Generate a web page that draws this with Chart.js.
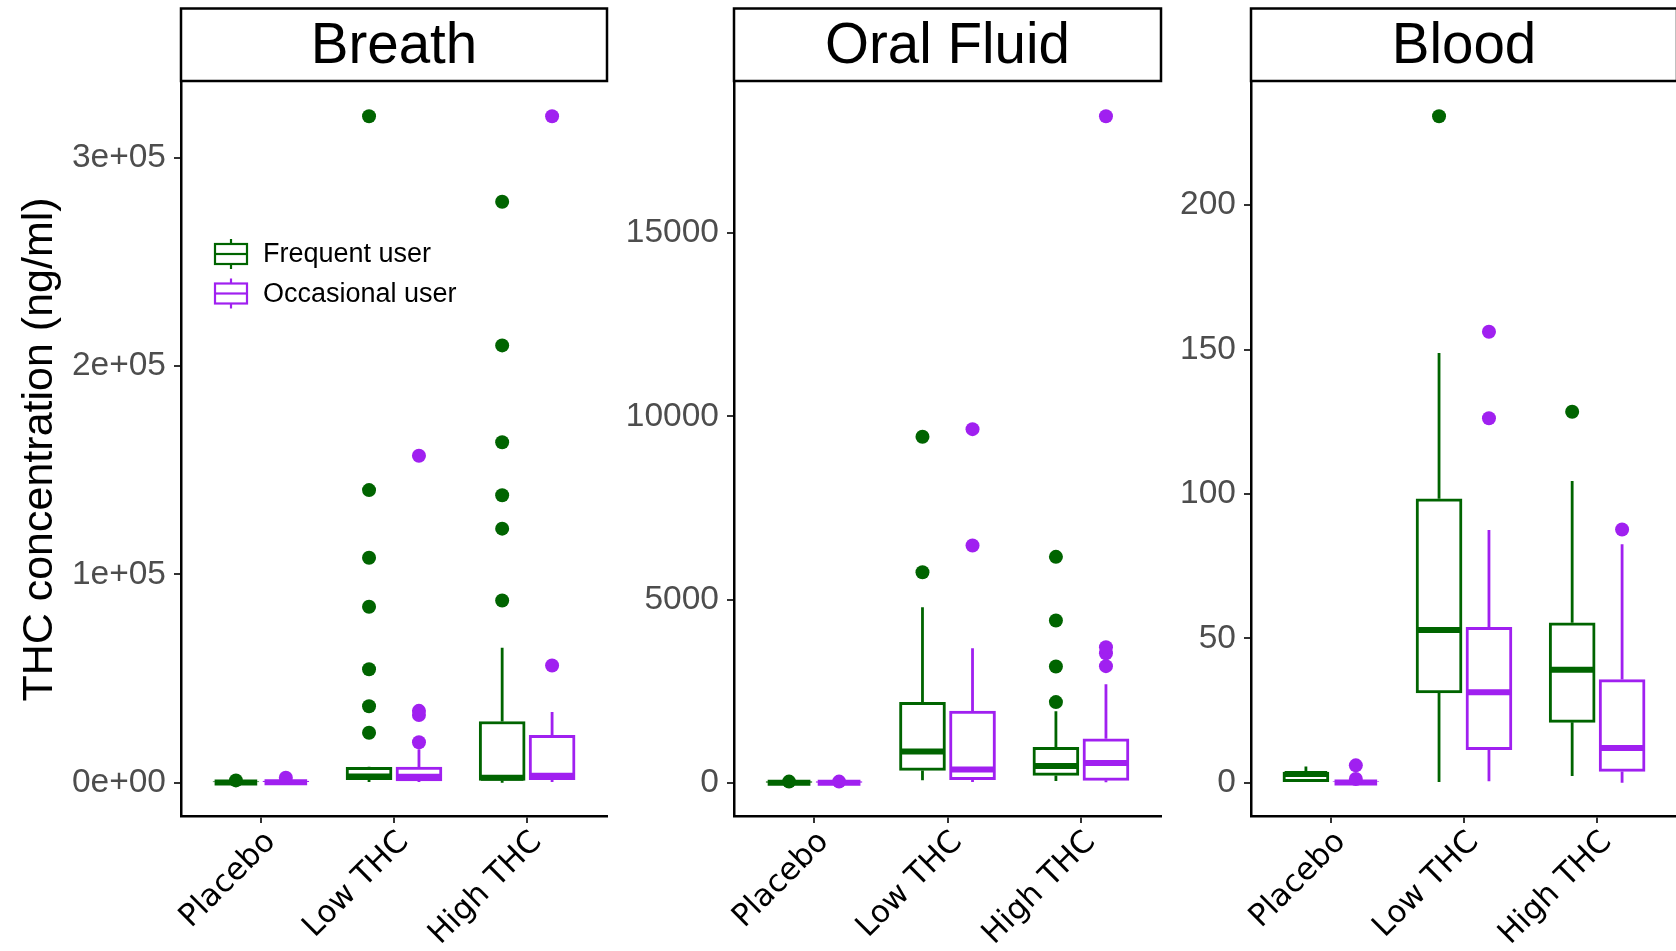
<!DOCTYPE html>
<html>
<head>
<meta charset="utf-8">
<script src="https://cdn.jsdelivr.net/npm/chart.js@4.4.1/dist/chart.umd.min.js"></script>
<style>
  html, body { margin: 0; padding: 0; background: #fff; width: 1676px; height: 951px; overflow: hidden; }
  .panel { position: absolute; top: 0; height: 951px; }
</style>
</head>
<body>
<div class="panel" style="left:0;width:620px"><canvas id="breath"></canvas></div>
<div class="panel" style="left:620px;width:545px"><canvas id="oral"></canvas></div>
<div class="panel" style="left:1165px;width:520px"><canvas id="blood"></canvas></div>
<script>
const groups = ["Placebo", "Low THC", "High THC"];
const users = ["Frequent user", "Occasional user"];
const userColors = ["#006400", "#A020F0"];

// box stats per group: [lower whisker, Q1, median, Q3, upper whisker]
const breathFrequent = [[0, 0, 100, 400, 800], [300, 1400, 3000, 7400, 7600], [0, 1100, 2400, 29400, 64800]];
const breathOccasional = [[0, 0, 200, 800, 1500], [300, 900, 2800, 7500, 16000], [300, 1400, 3300, 22700, 33900]];
const breathFrequentOut = [[1100], [24000, 36700, 54500, 84500, 108000, 140500, 320000], [87500, 122000, 138000, 163500, 210000, 279000]];
const breathOccasionalOut = [[2400], [19400, 32500, 34500, 157000], [56300, 320000]];

const oralFrequent = [[0, 0, 0, 10, 20], [63, 335, 854, 2190, 4790], [44, 199, 453, 963, 1953]];
const oralOccasional = [[0, 0, 0, 10, 20], [16, 82, 363, 1953, 3672], [10, 63, 535, 1200, 2690]];
const oralFrequentOut = [[30], [5745, 9445], [2199, 3173, 4428, 6165]];
const oralOccasionalOut = [[30], [6474, 9650], [3181, 3535, 3700, 18190]];

const bloodFrequent = [[0, 0, 3, 3.7, 5.6], [0.2, 31.1, 52.9, 98.3, 148.8], [2.3, 20.9, 39.1, 55.4, 104.5]];
const bloodOccasional = [[0, 0, 0.1, 0.4, 0.6], [0.5, 11.4, 31.3, 53.8, 87.5], [0, 3.9, 12.0, 35.7, 82.6]];
const bloodFrequentOut = [[], [230.8], [128.5]];
const bloodOccasionalOut = [[1.3, 6.0], [126.2, 156.2], [87.7]];

// y axis ticks and labels
const breathTicks = [0, 100000, 200000, 300000];
const breathTickLabels = ["0e+00", "1e+05", "2e+05", "3e+05"];
const oralTicks = [0, 5000, 10000, 15000];
const oralTickLabels = ["0", "5000", "10000", "15000"];
const bloodTicks = [0, 50, 100, 150, 200];
const bloodTickLabels = ["0", "50", "100", "150", "200"];

const yTitle = "THC concentration (ng/ml)";
const dodge = 0.1875;
const halfBox = 0.16;

// facet strip above the plot area
const stripPlugin = {
  id: "strip",
  afterDraw(chart, args, opts) {
    const { ctx, chartArea } = chart;
    ctx.save();
    ctx.fillStyle = "#fff";
    ctx.fillRect(chartArea.left, 8.5, chartArea.right - chartArea.left, 72.5);
    ctx.strokeStyle = "#000";
    ctx.lineWidth = 2.5;
    ctx.strokeRect(chartArea.left, 8.5, chartArea.right - chartArea.left, 72.5);
    ctx.fillStyle = "#000";
    ctx.font = "56.5px 'Liberation Sans', Arial, sans-serif";
    ctx.textAlign = "center";
    ctx.textBaseline = "middle";
    ctx.fillText(opts.text, (chartArea.left + chartArea.right) / 2, 47);
    ctx.restore();
  },
};

// boxplot style legend drawn inside the first panel
const boxLegendPlugin = {
  id: "boxLegend",
  afterDraw(chart, args, opts) {
    if (!opts.show) return;
    const { ctx, chartArea } = chart;
    ctx.save();
    users.forEach(function (user, i) {
      const cx = chartArea.left + 50;
      const cy = chartArea.top + 171 + i * 39.5;
      ctx.strokeStyle = userColors[i];
      ctx.lineWidth = 2.2;
      ctx.beginPath();
      ctx.moveTo(cx, cy - 15);
      ctx.lineTo(cx, cy + 15);
      ctx.stroke();
      ctx.fillStyle = "#fff";
      ctx.fillRect(cx - 16, cy - 10, 32, 20);
      ctx.strokeRect(cx - 16, cy - 10, 32, 20);
      ctx.beginPath();
      ctx.moveTo(cx - 16, cy);
      ctx.lineTo(cx + 16, cy);
      ctx.stroke();
      ctx.fillStyle = "#000";
      ctx.font = "27px 'Liberation Sans', Arial, sans-serif";
      ctx.textAlign = "left";
      ctx.textBaseline = "middle";
      ctx.fillText(user, cx + 32, cy + 1);
    });
    ctx.restore();
  },
};

function buildDatasets(stats, outliers, shift, color) {
  const boxes = [];
  const whiskers = [];
  const medians = [];
  const points = [];
  stats.forEach(function (s, i) {
    const x = i + 1 + shift;
    boxes.push({ x: x, y: [s[1], s[3]] });
    whiskers.push({ x: x, y: s[0] }, { x: x, y: s[1] }, { x: x, y: null }, { x: x, y: s[3] }, { x: x, y: s[4] }, { x: x, y: null });
    medians.push({ x: x - halfBox, y: s[2] }, { x: x + halfBox, y: s[2] }, { x: x + halfBox, y: null });
    outliers[i].forEach(function (v) {
      points.push({ x: x, y: v });
    });
  });
  return [
    { type: "scatter", data: points, backgroundColor: color, borderWidth: 0, pointRadius: 7, order: 0 },
    { type: "line", data: medians, borderColor: color, borderWidth: 6, borderCapStyle: "butt", pointRadius: 0, fill: false, order: 1 },
    { type: "bar", data: boxes, backgroundColor: "#fff", borderColor: color, borderWidth: 3, borderSkipped: false, barThickness: 46, grouped: false, order: 2 },
    { type: "line", data: whiskers, borderColor: color, borderWidth: 2.8, borderCapStyle: "butt", pointRadius: 0, fill: false, order: 3 },
  ];
}

function makePanel(canvasId, title, freq, occ, freqOut, occOut, ticks, tickLabels, yWidth, padRight, showTitle) {
  // ggplot style 5% expansion of the data range
  const all = [].concat(...freq, ...occ, ...freqOut, ...occOut);
  const lo = Math.min(...all);
  const hi = Math.max(...all);
  const pad = (hi - lo) * 0.05;

  const datasets = buildDatasets(freq, freqOut, -dodge, userColors[0]).concat(buildDatasets(occ, occOut, dodge, userColors[1]));

  new Chart(document.getElementById(canvasId), {
    type: "bar",
    data: { datasets: datasets },
    options: {
      responsive: true,
      maintainAspectRatio: false,
      animation: false,
      layout: { autoPadding: false, padding: { top: 83, right: padRight, bottom: 0, left: 0 } },
      plugins: {
        legend: { display: false },
        tooltip: { enabled: false },
        strip: { text: title },
        boxLegend: { show: showTitle },
      },
      scales: {
        x: {
          type: "linear",
          min: 0.4,
          max: 3.6,
          offset: false,
          grid: { display: true, offset: false, drawOnChartArea: false, drawTicks: true, tickLength: 7, tickColor: "#333", lineWidth: 2 },
          border: { display: true, color: "#000", width: 2.5 },
          ticks: {
            autoSkip: false,
            maxRotation: 45,
            minRotation: 45,
            padding: 1,
            labelOffset: 10,
            color: "#000",
            font: { family: "'DejaVu Sans', sans-serif", size: 31 },
            callback: function (value) {
              return groups[value - 1];
            },
          },
          afterBuildTicks: function (scale) {
            scale.ticks = groups.map(function (g, i) {
              return { value: i + 1 };
            });
          },
          afterFit: function (scale) {
            scale.height = 135;
            scale.paddingLeft = 0;
            scale.paddingRight = 0;
          },
        },
        y: {
          type: "linear",
          min: lo - pad,
          max: hi + pad,
          grid: { display: true, drawOnChartArea: false, drawTicks: true, tickLength: 7, tickColor: "#333", lineWidth: 2 },
          border: { display: true, color: "#000", width: 2.5 },
          ticks: {
            padding: 8,
            color: "#4D4D4D",
            font: { family: "'Liberation Sans', Arial, sans-serif", size: 33.5 },
            callback: function (value, index) {
              return tickLabels[index];
            },
          },
          title: {
            display: showTitle,
            text: yTitle,
            color: "#000",
            font: { family: "'Liberation Sans', Arial, sans-serif", size: 43, lineHeight: 1 },
            padding: { top: 19, bottom: 0 },
          },
          afterBuildTicks: function (scale) {
            scale.ticks = ticks.map(function (v) {
              return { value: v };
            });
          },
          afterFit: function (scale) {
            scale.width = yWidth;
            scale.paddingTop = 0;
            scale.paddingBottom = 0;
          },
        },
      },
    },
    plugins: [stripPlugin, boxLegendPlugin],
  });
}

makePanel("breath", "Breath", breathFrequent, breathOccasional, breathFrequentOut, breathOccasionalOut, breathTicks, breathTickLabels, 181, 13, true);
makePanel("oral", "Oral Fluid", oralFrequent, oralOccasional, oralFrequentOut, oralOccasionalOut, oralTicks, oralTickLabels, 114, 4, false);
makePanel("blood", "Blood", bloodFrequent, bloodOccasional, bloodFrequentOut, bloodOccasionalOut, bloodTicks, bloodTickLabels, 86, 8, false);
</script>
</body>
</html>
